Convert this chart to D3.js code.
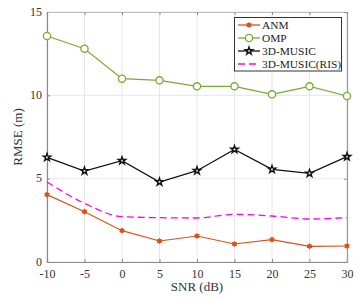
<!DOCTYPE html>
<html>
<head>
<meta charset="utf-8">
<script src="https://cdn.jsdelivr.net/npm/d3@7"></script>
<style>
  body { margin: 0; background: #fff; }
  svg { font-family: "Liberation Serif", "Times New Roman", serif; }
</style>
</head>
<body>
<svg id="chart" width="361" height="301"></svg>
<script>
// data
var snr = [-10, -5, 0, 5, 10, 15, 20, 25, 30];
var anm = [4.04, 3.02, 1.88, 1.26, 1.56, 1.08, 1.34, 0.94, 0.96];
var omp = [13.56, 12.8, 11.0, 10.9, 10.54, 10.54, 10.06, 10.54, 9.96];
var music = [6.28, 5.46, 6.08, 4.8, 5.48, 6.75, 5.56, 5.32, 6.32];
var musicRis = [4.8, 3.52, 2.72, 2.66, 2.64, 2.86, 2.76, 2.58, 2.66];
var xTicks = [-10, -5, 0, 5, 10, 15, 20, 25, 30];
var yTicks = [0, 5, 10, 15];
var legendNames = ["ANM", "OMP", "3D-MUSIC", "3D-MUSIC(RIS)"];

var svg = d3.select("#chart");
var pLeft = 47, pRight = 347, pTop = 12, pBottom = 262;

var x = d3.scaleLinear().domain([-10, 30]).range([pLeft, pRight]);
var y = d3.scaleLinear().domain([0, 15]).range([pBottom, pTop]);

// grid
svg.append("g")
    .selectAll("line")
    .data(xTicks)
    .enter()
    .append("line")
    .attr("x1", function (d) { return x(d); })
    .attr("x2", function (d) { return x(d); })
    .attr("y1", pTop)
    .attr("y2", pBottom)
    .attr("stroke", "#e6e6e6")
    .attr("stroke-width", 1);
svg.append("g")
    .selectAll("line")
    .data(yTicks)
    .enter()
    .append("line")
    .attr("x1", pLeft)
    .attr("x2", pRight)
    .attr("y1", function (d) { return y(d); })
    .attr("y2", function (d) { return y(d); })
    .attr("stroke", "#e6e6e6")
    .attr("stroke-width", 1);

// axes, ticks pointing inward
var fmt = function (d) { return String(d); };
var xAxis = svg.append("g")
    .attr("transform", "translate(0," + pBottom + ")")
    .call(d3.axisBottom(x).tickValues(xTicks).tickSize(-3).tickPadding(7).tickFormat(fmt));
var yAxis = svg.append("g")
    .attr("transform", "translate(" + pLeft + ",0)")
    .call(d3.axisLeft(y).tickValues(yTicks).tickSize(-3).tickPadding(5).tickFormat(fmt));
var xTop = svg.append("g")
    .attr("transform", "translate(0," + pTop + ")")
    .call(d3.axisTop(x).tickValues(xTicks).tickSize(-3).tickFormat(""));
var yRight = svg.append("g")
    .attr("transform", "translate(" + pRight + ",0)")
    .call(d3.axisRight(y).tickValues(yTicks).tickSize(-3).tickFormat(""));

[xAxis, yAxis, xTop, yRight].forEach(function (g) {
    g.selectAll("path").attr("stroke", "#8c8c8c").attr("stroke-width", 1.2);
    g.selectAll("line").attr("stroke", "#8c8c8c");
    g.selectAll("text")
        .attr("fill", "#333")
        .style("font-size", "12px")
        .style("font-family", "Liberation Serif");
});
xTop.select("path").attr("stroke", "#bdbdbd");
yRight.select("path").attr("stroke", "#9a9a9a");
yAxis.selectAll("text").attr("dy", "0.25em");

// axis labels
svg.append("text")
    .attr("x", x(10))
    .attr("y", 291)
    .attr("text-anchor", "middle")
    .attr("fill", "#333")
    .style("font-size", "13px")
    .text("SNR (dB)");
svg.append("text")
    .attr("transform", "translate(22," + y(7.5) + ") rotate(-90)")
    .attr("text-anchor", "middle")
    .attr("fill", "#333")
    .style("font-size", "13px")
    .text("RMSE (m)");

var line = d3.line()
    .x(function (d, i) { return x(snr[i]); })
    .y(function (d) { return y(d); });
var smooth = d3.line()
    .x(function (d, i) { return x(snr[i]); })
    .y(function (d) { return y(d); })
    .curve(d3.curveMonotoneX);

var orange = "#d95319", green = "#77ac30", magenta = "#ff00ff";

// RIS dashed
svg.append("path")
    .attr("d", smooth(musicRis))
    .attr("fill", "none")
    .attr("stroke", magenta)
    .attr("stroke-width", 1.3)
    .attr("stroke-dasharray", "7,4");

// lines
svg.append("path").attr("d", line(music)).attr("fill", "none")
    .attr("stroke", "#111").attr("stroke-width", 1.2);
svg.append("path").attr("d", line(omp)).attr("fill", "none")
    .attr("stroke", green).attr("stroke-width", 1.2);
svg.append("path").attr("d", line(anm)).attr("fill", "none")
    .attr("stroke", orange).attr("stroke-width", 1.2);

var star = d3.symbol().type(d3.symbolStar).size(17);
var ast = d3.symbol().type(d3.symbolAsterisk).size(22);

svg.append("g").selectAll("path")
    .data(music)
    .enter()
    .append("path")
    .attr("d", star)
    .attr("transform", function (d, i) { return "translate(" + x(snr[i]) + "," + y(d) + ")"; })
    .attr("fill", "#fff")
    .attr("stroke", "#111")
    .attr("stroke-width", 1.4);

svg.append("g").selectAll("circle")
    .data(omp)
    .enter()
    .append("circle")
    .attr("cx", function (d, i) { return x(snr[i]); })
    .attr("cy", function (d) { return y(d); })
    .attr("r", 3.6)
    .attr("fill", "#fff")
    .attr("stroke", green)
    .attr("stroke-width", 1.3);

var anmG = svg.append("g");
anmG.selectAll("circle")
    .data(anm)
    .enter()
    .append("circle")
    .attr("cx", function (d, i) { return x(snr[i]); })
    .attr("cy", function (d) { return y(d); })
    .attr("r", 2.3)
    .attr("fill", orange);
anmG.selectAll("path")
    .data(anm)
    .enter()
    .append("path")
    .attr("d", ast)
    .attr("transform", function (d, i) { return "translate(" + x(snr[i]) + "," + y(d) + ")"; })
    .attr("fill", "none")
    .attr("stroke", orange)
    .attr("stroke-width", 1.1);

// legend
var lg = svg.append("g");
lg.append("rect")
    .attr("x", 234.5).attr("y", 17.5)
    .attr("width", 107).attr("height", 53.5)
    .attr("fill", "#fff")
    .attr("stroke", "#333")
    .attr("stroke-width", 1);

var rowY = [25, 38, 51, 64];
legendNames.forEach(function (name, i) {
    var yy = rowY[i];
    var l = lg.append("line")
        .attr("x1", 238).attr("x2", 260)
        .attr("y1", yy).attr("y2", yy)
        .attr("stroke-width", 1.3);
    if (i == 0) {
        l.attr("stroke", orange);
        lg.append("circle").attr("cx", 249).attr("cy", yy).attr("r", 2.3).attr("fill", orange);
        lg.append("path").attr("d", ast).attr("transform", "translate(249," + yy + ")")
            .attr("fill", "none").attr("stroke", orange).attr("stroke-width", 1.1);
    } else if (i == 1) {
        l.attr("stroke", green);
        lg.append("circle").attr("cx", 249).attr("cy", yy).attr("r", 3.6)
            .attr("fill", "#fff").attr("stroke", green).attr("stroke-width", 1.3);
    } else if (i == 2) {
        l.attr("stroke", "#111");
        lg.append("path").attr("d", star).attr("transform", "translate(249," + yy + ")")
            .attr("fill", "#fff").attr("stroke", "#111").attr("stroke-width", 1.4);
    } else {
        l.attr("stroke", magenta).attr("stroke-dasharray", "7,4");
    }
    lg.append("text")
        .attr("x", 262)
        .attr("y", yy + 4)
        .attr("fill", "#222")
        .style("font-size", "11.4px")
        .text(name);
});
</script>
</body>
</html>
